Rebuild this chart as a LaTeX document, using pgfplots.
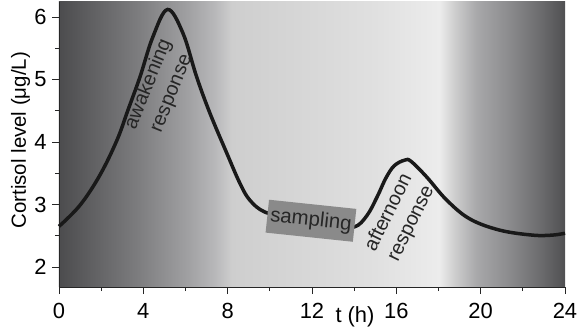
\documentclass[border=0pt]{standalone}
\usepackage{pgfplots}
\pgfplotsset{compat=1.18}
\usepackage{fontspec}
\setmainfont{Liberation Sans}
\definecolor{g00}{HTML}{4C4C4E}
\definecolor{g01}{HTML}{5E5E60}
\definecolor{g02}{HTML}{7C7C7E}
\definecolor{g03}{HTML}{A0A0A2}
\definecolor{g04}{HTML}{B8B8BA}
\definecolor{g05}{HTML}{CECECE}
\definecolor{g06}{HTML}{D8D8D8}
\definecolor{g07}{HTML}{E0E0E0}
\definecolor{g08}{HTML}{ECECEC}
\definecolor{g09}{HTML}{D0D0D0}
\definecolor{g10}{HTML}{A8A8AA}
\definecolor{g11}{HTML}{8A8A8C}
\definecolor{g12}{HTML}{6A6A6C}
\definecolor{g13}{HTML}{505052}
\definecolor{boxgray}{HTML}{8A8A8A}
\pgfdeclarehorizontalshading{bgshade}{100bp}{%
color(0bp)=(g00); color(25bp)=(g00); color(27.92bp)=(g01); color(32.71bp)=(g02);
color(37.71bp)=(g03); color(40.42bp)=(g04); color(42.08bp)=(g05); color(50.2bp)=(g06);
color(56.25bp)=(g07); color(62.6bp)=(g08); color(63.96bp)=(g09); color(66.25bp)=(g10);
color(69.58bp)=(g11); color(72.7bp)=(g12); color(75bp)=(g13); color(100bp)=(g13)}
\begin{document}
\begin{tikzpicture}
\useasboundingbox (-59bp,-44bp) rectangle (520bp,287bp);
\begin{axis}[
  scale only axis,
  width=506bp, height=285bp,
  xmin=0, xmax=24, ymin=1.68, ymax=6.24,
  axis lines*=left,
  axis line style={line width=0.8pt, draw=black!85},
  axis background/.style={shading=bgshade},
  xtick={0,4,...,24}, minor xtick={2,6,...,22},
  ytick={2,3,4,5,6}, minor ytick={2.5,3.5,4.5,5.5},
  tick align=outside,
  major tick length=7bp, minor tick length=4bp,
  tick style={line width=0.8pt, black!85},
  /pgf/number format/assume math mode=true,
  ticklabel style={font=\fontsize{22}{24}\selectfont},
  xticklabel style={yshift=-6bp},
  yticklabel style={xshift=-2bp},
  xlabel={t (h)},
  xlabel style={font=\fontsize{22}{24}\selectfont, at={(axis description cs:0.585,-0.055)}, anchor=north},
  ylabel={Cortisol level (μg/L)},
  ylabel style={font=\fontsize{20.5}{24}\selectfont, at={(axis description cs:-0.076,0.515)}, anchor=center},
  clip=false,
]
\addplot[line width=3.5bp, black!90, smooth, tension=0.6] coordinates {
(0,2.65) (1,2.99) (1.94,3.47) (2.75,4.03) (3.27,4.51) (3.84,5.04) (4.45,5.68)
(5.15,6.12) (5.88,5.74) (6.53,5.04) (7.16,4.46) (7.96,3.82) (8.58,3.34) (9.05,3.07)
(9.76,2.88) (11,2.78) (12,2.72) (13,2.67) (14.0,2.64) (14.6,2.82) (15.1,3.13)
(15.5,3.42) (15.9,3.62) (16.4,3.71) (16.7,3.69) (17.44,3.44) (18.39,3.07) (19.48,2.77) (20.9,2.59)
(22.46,2.51) (23.4,2.51) (24,2.54)
};
\node[rotate=68, align=center, font=\fontsize{20}{25}\selectfont, text=black!85] at (axis cs:4.79,4.85) {awakening\\response};
\node[rotate=64, align=center, font=\fontsize{20}{25}\selectfont, text=black!85] at (axis cs:16.18,2.78) {afternoon\\response};
\node[rotate=-6, fill=boxgray, text=black!85, font=\fontsize{20.5}{24}\selectfont, inner xsep=3bp, inner ysep=7bp] at (axis cs:11.95,2.74) {sampling};
\end{axis}
\end{tikzpicture}
\end{document}
